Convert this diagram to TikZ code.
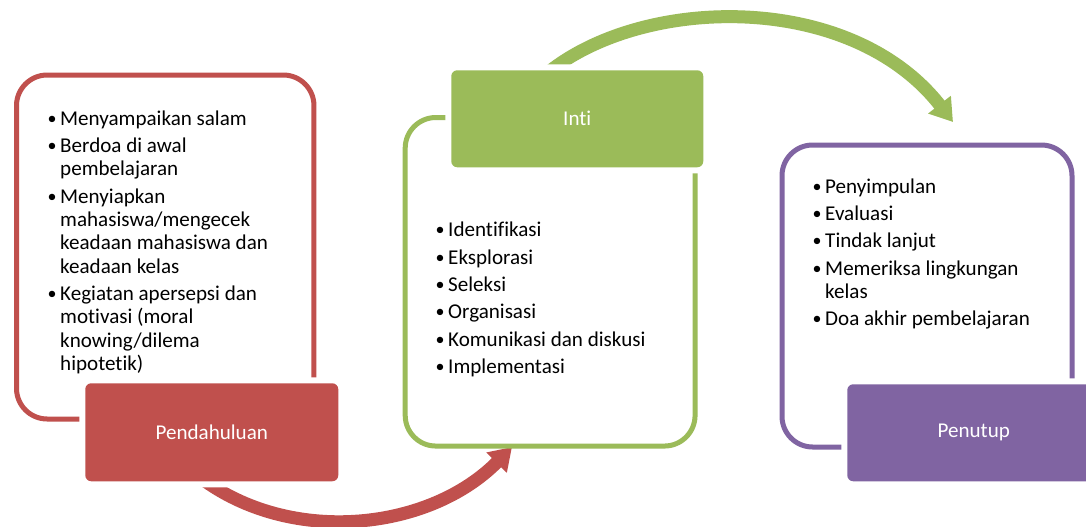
\documentclass[tikz,border=0pt]{standalone}
\usepackage{fontspec}
\setmainfont{Carlito}[Ligatures=NoCommon]
\usetikzlibrary{arrows.meta}
\definecolor{cred}{HTML}{C0504D}
\definecolor{cgreen}{HTML}{9BBB59}
\definecolor{cpurple}{HTML}{8064A2}
\newcommand{\bitem}[1]{\par\hangindent=9.5pt\hangafter=1\noindent\makebox[9.5pt][l]{\raisebox{0.7pt}{\fontsize{13.5pt}{14pt}\selectfont\textbullet}}#1}
\newcommand{\nl}{\hfil\break}
\newcommand{\blist}[1]{\parbox[t]{230pt}{\fontsize{15.8pt}{17.5pt}\selectfont\setlength{\parskip}{3pt}\raggedright#1}}
\begin{document}
\begin{tikzpicture}[x=0.75pt,y=-0.75pt,
  outline/.style={draw=#1, line width=3.75pt, rounded corners=23pt, anchor=north west, inner sep=0pt},
  filled/.style={fill=#1, anchor=north west, inner sep=0pt, rounded corners=4.5pt,
    preaction={draw=white, line width=9pt}, text=white, font=\fontsize{15.8pt}{17.5pt}\selectfont},
  bigarrow/.style={draw=#1, line width=9.75pt, -{Triangle[width=20.5pt,length=16.5pt]}},
  txt/.style={anchor=base west, inner sep=0pt}
]
\clip (0,0) rectangle (1086,526);
\fill[white] (0,0) rectangle (1086,526);
% coordinates for arrows
\coordinate (r0) at (205,481);
\coordinate (r1) at (512,447);
\coordinate (g0) at (545,75);
\coordinate (g1) at (953,122);
\draw[bigarrow=cred] (r0) .. controls (295,545) and (430,530) .. (r1);
\draw[bigarrow=cgreen] (g0) .. controls (640,-5) and (850,-10) .. (g1);
% outline boxes
\node[outline=cred, minimum width=223.1pt, minimum height=258pt] (o1) at (14,72.5) {};
\node[outline=cgreen, minimum width=217.4pt, minimum height=246.4pt] (o2) at (402.7,115) {};
\node[outline=cpurple, minimum width=217.5pt, minimum height=226.5pt] (o3) at (779.5,142.5) {};
% filled boxes
\node[filled=cred, minimum width=189.75pt, minimum height=73.5pt] (pend) at (85,383) {Pendahuluan};
\node[filled=cgreen, minimum width=189pt, minimum height=72.75pt] (inti) at (451,70) {Inti};
\node[filled=cpurple, minimum width=189.75pt, minimum height=72.75pt] (pen) at (847,384) {Penutup};
% texts
\node[txt] (t1) at (47.3,125) {\blist{%
\bitem{Menyampaikan salam}
\bitem{Berdoa di awal\nl pembelajaran}
\bitem{Menyiapkan\nl mahasiswa/mengecek\nl keadaan mahasiswa dan\nl keadaan kelas}
\bitem{Kegiatan apersepsi dan\nl motivasi (moral\nl knowing/dilema\nl hipotetik)}}};
\node[txt] (t2) at (435.3,236.7) {\blist{%
\bitem{Identifikasi}
\bitem{Eksplorasi}
\bitem{Seleksi}
\bitem{Organisasi}
\bitem{Komunikasi dan diskusi}
\bitem{Implementasi}}};
\node[txt] (t3) at (812.3,193) {\blist{%
\bitem{Penyimpulan}
\bitem{Evaluasi}
\bitem{Tindak lanjut}
\bitem{Memeriksa lingkungan\nl kelas}
\bitem{Doa akhir pembelajaran}}};
\end{tikzpicture}
\end{document}
